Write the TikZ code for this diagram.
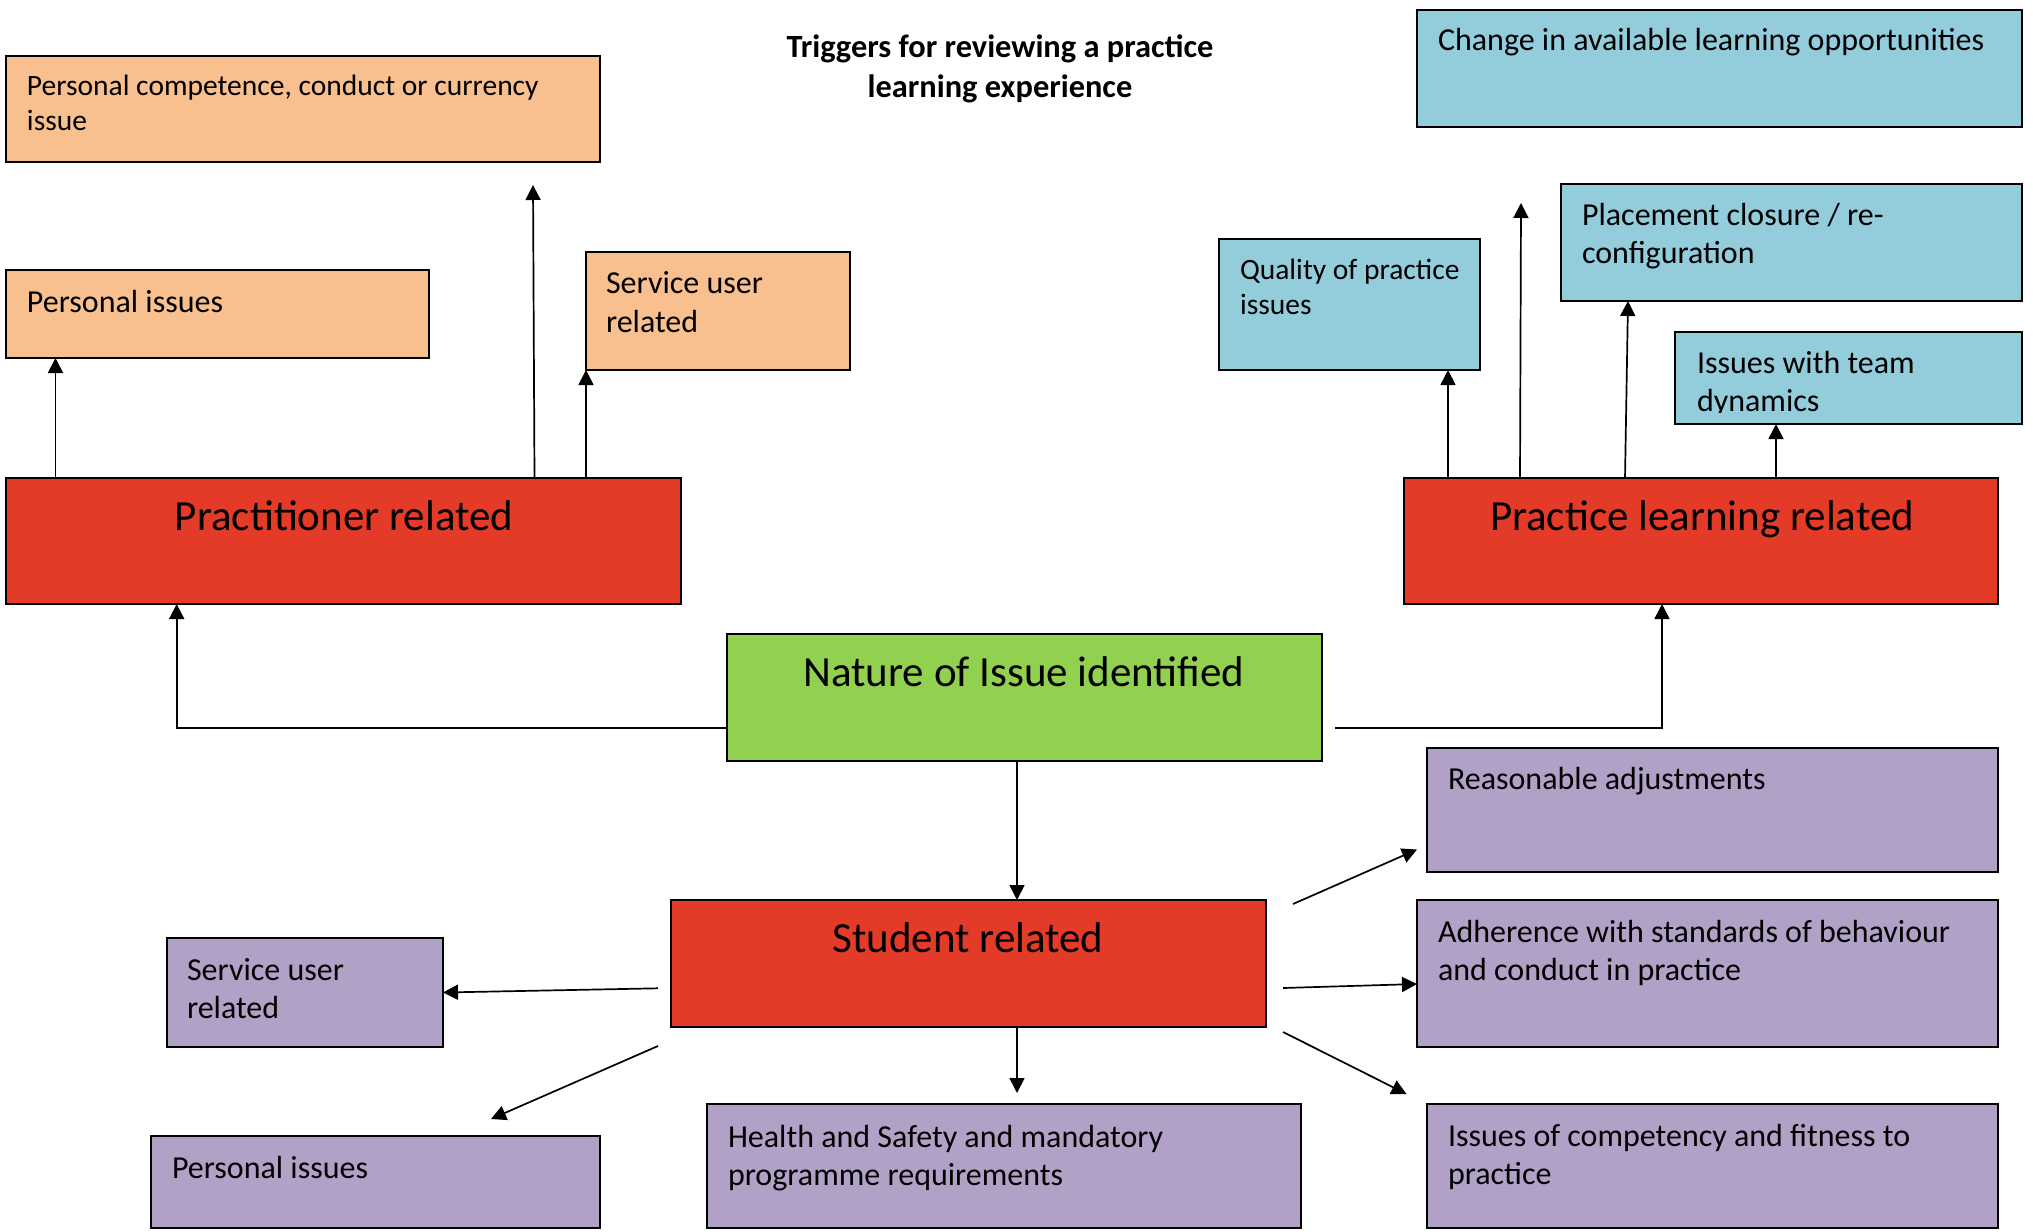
\documentclass[tikz,border=0pt]{standalone}
\usepackage{fontspec}
\setmainfont{Carlito}
\usetikzlibrary{arrows.meta,calc}
\definecolor{cOr}{HTML}{F9C08F}
\definecolor{cBl}{HTML}{93CDDC}
\definecolor{cRd}{HTML}{E43A28}
\definecolor{cGr}{HTML}{92D050}
\definecolor{cPu}{HTML}{B1A1C7}
\newcommand{\fsz}[2]{\fontsize{#1pt}{#2pt}\selectfont}
\newcommand{\lns}[1]{\begin{tabular}[t]{@{}l@{}}#1\end{tabular}}
\begin{document}
\begin{tikzpicture}[x=1pt,y=-1pt,
 bx/.style={draw=black, line width=1.5pt, anchor=north west, inner sep=0pt, outer sep=0pt},
 tx/.style={anchor=base west, inner sep=0pt, outer sep=0pt, font={\fsz{32}{38.5}}},
 big/.style={anchor=base, inner sep=0pt, outer sep=0pt, font={\fsz{43}{50}}},
 arr/.style={line width=1.7pt, -{Triangle[length=15pt,width=15pt]}},
 ln/.style={line width=1.7pt}]
\fill[white] (0,0) rectangle (2033,1231);
\useasboundingbox (0,0) rectangle (2033,1231);

% title
\node[anchor=base, inner sep=0pt, font={\bfseries\fsz{32.4}{39.5}}] (title) at (1000,58)
  {\begin{tabular}[t]{@{}c@{}}Triggers for reviewing a practice\\ learning experience\end{tabular}};

% orange boxes
\node[bx, fill=cOr, minimum width=594pt, minimum height=106pt] (pc) at (6,56) {};
\node[bx, fill=cOr, minimum width=423pt, minimum height=88pt] (pi) at (6,270) {};
\node[bx, fill=cOr, minimum width=264pt, minimum height=118pt] (su) at (586,252) {};
% red boxes
\node[bx, fill=cRd, minimum width=675pt, minimum height=126pt] (pr) at (6,478) {};
\node[bx, fill=cRd, minimum width=594pt, minimum height=126pt] (plr) at (1404,478) {};
\node[bx, fill=cRd, minimum width=595pt, minimum height=127pt] (sr) at (671,900) {};
% green
\node[bx, fill=cGr, minimum width=595pt, minimum height=127pt] (ni) at (727,634) {};
% blue boxes
\node[bx, fill=cBl, minimum width=605pt, minimum height=117pt] (ch) at (1417,10) {};
\node[bx, fill=cBl, minimum width=461pt, minimum height=117pt] (pl) at (1561,184) {};
\node[bx, fill=cBl, minimum width=261pt, minimum height=131pt] (qu) at (1219,239) {};
\node[bx, fill=cBl, minimum width=347pt, minimum height=92pt] (tm) at (1675,332) {};
% purple boxes
\node[bx, fill=cPu, minimum width=276pt, minimum height=109pt] (su2) at (167,938) {};
\node[bx, fill=cPu, minimum width=449pt, minimum height=92pt] (pi2) at (151,1136) {};
\node[bx, fill=cPu, minimum width=594pt, minimum height=124pt] (hs) at (707,1104) {};
\node[bx, fill=cPu, minimum width=571pt, minimum height=124pt] (ra) at (1427,748) {};
\node[bx, fill=cPu, minimum width=581pt, minimum height=147pt] (ad) at (1417,900) {};
\node[bx, fill=cPu, minimum width=571pt, minimum height=124pt] (ic) at (1427,1104) {};

% texts
\node[tx, font={\fsz{29.5}{35.5}}] (pcT) at (27,95) {\lns{Personal competence, conduct or currency\\ issue}};
\node[tx] (piT) at (27,312) {Personal issues};
\node[tx, font={\fsz{32}{39}}] (suT) at (606,293) {\lns{Service user\\ related}};
\node[big] (prT) at (344,530) {Practitioner related};
\node[big] (plrT) at (1702,530) {Practice learning related};
\node[big] (srT) at (968,952) {Student related};
\node[big] (niT) at (1024,686) {Nature of Issue identified};
\node[tx] (chT) at (1438,51) {Change in available learning opportunities};
\node[tx, font={\fsz{32}{38}}] (plT) at (1582,225) {\lns{Placement closure / re-\\ configuration}};
\node[tx, font={\fsz{29.5}{35}}] (quT) at (1240,279) {\lns{Quality of practice\\ issues}};
\begin{scope}
\clip (1675,332) rectangle (2022,412.5);
\node[tx, font={\fsz{32}{38.4}}] (tmT) at (1697,373.3) {\lns{Issues with team\\ dynamics}};
\end{scope}
\node[tx] (su2T) at (187,980) {\lns{Service user\\ related}};
\node[tx] (pi2T) at (172,1178) {Personal issues};
\node[tx] (hsT) at (728,1147) {\lns{Health and Safety and mandatory\\ programme requirements}};
\node[tx] (raT) at (1448,789) {Reasonable adjustments};
\node[tx] (adT) at (1438,942) {\lns{Adherence with standards of behaviour\\ and conduct in practice}};
\node[tx, font={\fsz{32}{37.5}}] (icT) at (1448,1146.5) {\lns{Issues of competency and fitness to\\ practice}};

% helper coordinates
\coordinate (x1) at (55.5,0);
\coordinate (x2) at (534.5,0);
\coordinate (c2) at (533,185);
\coordinate (yl) at (0,728);
\coordinate (xl) at (176.7,0);
\coordinate (c5) at (1335,728);
\coordinate (xr) at (1662,0);
\coordinate (x6) at (1448,0);
\coordinate (x7) at (1520,0);
\coordinate (c7) at (1521,203);
\coordinate (x8) at (1625,0);
\coordinate (x8b) at (1628,0);
\coordinate (x9) at (1776,0);
\coordinate (x10) at (1017,0);
\coordinate (c11) at (1017,1093);
\coordinate (s12) at (658,988.3);
\coordinate (s13) at (658,1046);
\coordinate (c13) at (491,1119);
\coordinate (s14) at (1293,904);
\coordinate (c14) at (1417,849.5);
\coordinate (s15) at (1283,988);
\coordinate (y15) at (0,984);
\coordinate (s16) at (1283,1032);
\coordinate (c16) at (1406.5,1094);

% connectors
\draw[arr] (pr.north -| x1) -- (pi.south -| x1);
\draw[arr] (pr.north -| x2) -- (c2);
\draw[arr] (pr.north -| su.south west) -- (su.south west);
\draw[arr] (ni.west |- yl) -| (pr.south -| xl);
\draw[arr] (c5) -| (plr.south -| xr);
\draw[arr] (plr.north -| x6) -- (qu.south -| x6);
\draw[arr] (plr.north -| x7) -- (c7);
\draw[arr] (plr.north -| x8) -- (pl.south -| x8b);
\draw[arr] (plr.north -| x9) -- (tm.south -| x9);
\draw[arr] (ni.south -| x10) -- (sr.north -| x10);
\draw[arr] (sr.south -| x10) -- (c11);
\draw[arr] (s12) -- (su2.east);
\draw[arr] (s13) -- (c13);
\draw[arr] (s14) -- (c14);
\draw[arr] (s15) -- (ad.west |- y15);
\draw[arr] (s16) -- (c16);
\end{tikzpicture}
\end{document}
